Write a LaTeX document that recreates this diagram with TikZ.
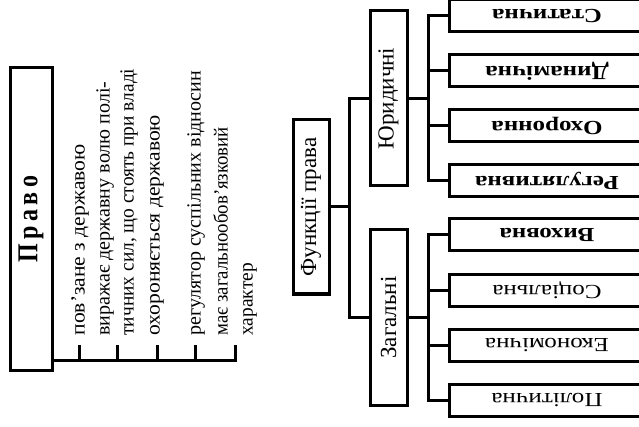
\documentclass[tikz,border=0pt]{standalone}
\usepackage{fontspec}
\setmainfont{Liberation Serif}
\usepackage{graphicx}
\newcommand{\stretchtext}[2]{\scalebox{#1}[1]{#2}}
\begin{document}
\begin{tikzpicture}[x=1pt,y=-1pt,
  line width=3pt,
  box/.style={draw, line width=3pt, inner sep=0pt, outer sep=0pt},
  funcbox/.style={box, minimum width=196pt, minimum height=32pt},
  item/.style={rotate=90, anchor=base west, inner sep=0pt,
    font=\fontsize{20}{24}\selectfont}]
\useasboundingbox (0,0) rectangle (639,427);
\clip (0,0) rectangle (639,427);

% ---- left part: the law and its features
\node[box, minimum width=42pt, minimum height=302pt] (pravo) at (31,219)
  {\rotatebox{90}{\scalebox{1}[1.2]{\fontsize{24}{28}\selectfont\bfseries
   П\kern4.3ptр\kern4.3ptа\kern4.3ptв\kern4.3ptо}}};

\node[item] (i1)  at (84.5,337)  {\stretchtext{1.08}{пов’зане з державою}};
\node[item] (i2a) at (109.5,337) {виражає державну волю полі-};
\node[item] (i2b) at (133.5,337) {\stretchtext{0.97}{тичних сил, що стоять при владі}};
\node[item] (i3)  at (159.5,337) {\stretchtext{1.08}{охороняється державою}};
\node[item] (i4)  at (200.5,337) {регулятор суспільних відносин};
\node[item] (i5a) at (227.5,337) {\stretchtext{0.94}{має загальнообов’язковий}};
\node[item] (i5b) at (252.5,337) {\stretchtext{0.97}{характер}};

\coordinate (t1) at (79,345);
\coordinate (t2) at (117,345);
\coordinate (t3) at (157,345);
\coordinate (t4) at (195,345);
\coordinate (t5) at (235,345);
\coordinate (busend) at (236.5,360);
\draw (pravo.east |- busend) -- (busend);
\foreach \t in {t1,t2,t3,t4,t5} \draw (\t) -- (\t |- busend);

% ---- right part: functions of law
\node[box, minimum width=36pt, minimum height=174pt] (func) at (311,207)
  {\rotatebox{90}{\fontsize{23}{27}\selectfont Функції права}};
\node[box, minimum width=37pt, minimum height=175pt] (jur) at (388.5,98.5)
  {\rotatebox{90}{\fontsize{23}{27}\selectfont Юридичні}};
\node[box, minimum width=37pt, minimum height=175pt] (zag) at (388.5,317.5)
  {\rotatebox{90}{\fontsize{23}{27}\selectfont Загальні}};

\coordinate (b1) at (349,207);
\draw (func.east) -- (b1);
\draw (jur.west) -| (b1) |- (zag.west);

% legal functions
\node[funcbox] (r1) at (547,16)  {\rotatebox{180}{\stretchtext{1.25}{\fontsize{20}{24}\selectfont\bfseries Статична}}};
\node[funcbox] (r2) at (547,71)  {\rotatebox{180}{\stretchtext{1.25}{\fontsize{20}{24}\selectfont\bfseries Динамічна}}};
\node[funcbox] (r3) at (547,126) {\rotatebox{180}{\stretchtext{1.25}{\fontsize{20}{24}\selectfont\bfseries Охоронна}}};
\node[funcbox] (r4) at (547,180.5) {\rotatebox{180}{\stretchtext{1.25}{\fontsize{20}{24}\selectfont\bfseries Регулятивна}}};

\coordinate (b2) at (428,98.5);
\draw (jur.east) -- (b2);
\draw (r1.west) -| (b2) |- (r4.west);
\draw (r2.west) -- (r2.west -| b2);
\draw (r3.west) -- (r3.west -| b2);

% general functions
\node[funcbox] (g1) at (547,234.5) {\rotatebox{180}{\stretchtext{1.25}{\fontsize{20}{24}\selectfont\bfseries Виховна}}};
\node[funcbox] (g2) at (547,290.5) {\rotatebox{180}{\stretchtext{1.25}{\fontsize{20}{24}\selectfont Соціальна}}};
\node[funcbox] (g3) at (547,345.5) {\rotatebox{180}{\stretchtext{1.25}{\fontsize{20}{24}\selectfont Економічна}}};
\node[funcbox] (g4) at (547,400.5) {\rotatebox{180}{\stretchtext{1.25}{\fontsize{20}{24}\selectfont Політична}}};

\coordinate (b3) at (428,317.5);
\draw (zag.east) -- (b3);
\draw (g1.west) -| (b3) |- (g4.west);
\draw (g2.west) -- (g2.west -| b3);
\draw (g3.west) -- (g3.west -| b3);
\end{tikzpicture}
\end{document}
